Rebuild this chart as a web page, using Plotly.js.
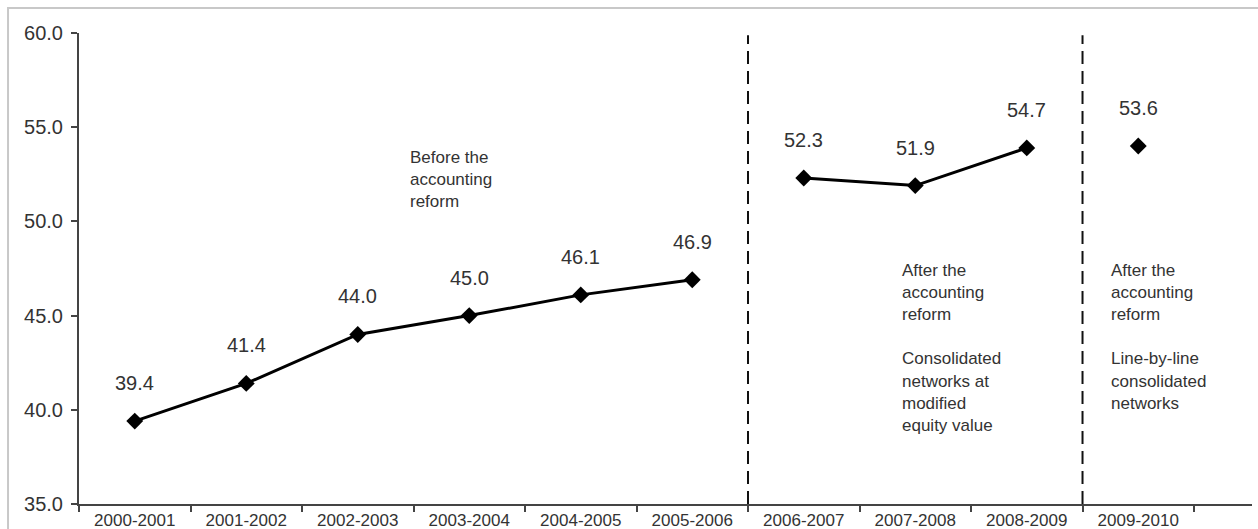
<!DOCTYPE html>
<html>
<head>
<meta charset="utf-8">
<script src="https://cdn.plot.ly/plotly-3.0.1.min.js"></script>
<style>
  html, body { margin: 0; padding: 0; background: #fff; }
  #chart { width: 1258px; height: 529px; }
</style>
</head>
<body>
<div id="chart"></div>
<script>
// ---- data ----
const categories = ["2000-2001", "2001-2002", "2002-2003", "2003-2004", "2004-2005",
                    "2005-2006", "2006-2007", "2007-2008", "2008-2009", "2009-2010"];
// plotted marker positions
const values = [39.4, 41.4, 44.0, 45.0, 46.1, 46.9, 52.3, 51.9, 53.9, 54.0];
// data label texts as printed
const labelTexts = ["39.4", "41.4", "44.0", "45.0", "46.1", "46.9", "52.3", "51.9", "54.7", "53.6"];
// period each year belongs to (lines are only drawn within a period)
const periods = [0, 0, 0, 0, 0, 0, 1, 1, 1, 2];
const periodNotes = [
  "Before the<br>accounting<br>reform",
  "After the<br>accounting<br>reform<br> <br>Consolidated<br>networks at<br>modified<br>equity value",
  "After the<br>accounting<br>reform<br> <br>Line-by-line<br>consolidated<br>networks"
];
const yTickVals = [35, 40, 45, 50, 55, 60];

// ---- build ----
const FONT = "Liberation Sans, Arial, sans-serif";
const TXT = "#333333";
const traces = [];
const nPeriods = Math.max(...periods) + 1;
for (let p = 0; p < nPeriods; p++) {
  const xs = [], ys = [];
  categories.forEach((c, i) => { if (periods[i] === p) { xs.push(c); ys.push(values[i]); } });
  traces.push({
    type: "scatter", mode: "lines+markers", x: xs, y: ys,
    line: { color: "#000000", width: 3 },
    marker: { symbol: "diamond", size: 13, color: "#000000" },
    showlegend: false, hoverinfo: "x+y"
  });
}

const annotations = categories.map((c, i) => ({
  x: c, y: values[i], xref: "x", yref: "y", text: labelTexts[i],
  showarrow: false, yshift: 38, font: { family: FONT, size: 20, color: TXT }
}));

// notes for each period
const notePos = [
  { x: 2.45, y: 54.0 },
  { x: 6.86, y: 48.0 },
  { x: 8.74, y: 48.0 }
];
periodNotes.forEach((t, k) => {
  annotations.push({
    x: notePos[k].x, y: notePos[k].y, xref: "x", yref: "y", text: t,
    showarrow: false, xanchor: "left", yanchor: "top", align: "left",
    font: { family: FONT, size: 17, color: TXT }
  });
});

// dashed separators between periods
const shapes = [];
for (let i = 1; i < periods.length; i++) {
  if (periods[i] !== periods[i - 1]) {
    shapes.push({
      type: "line", xref: "x", yref: "paper", x0: i - 0.5, x1: i - 0.5, y0: 0, y1: 0.995,
      line: { color: "#111111", width: 2, dash: "13px,7px" }
    });
  }
}
// light outer frame
shapes.push({
  type: "rect", xref: "paper", yref: "paper", x0: -0.0605, x1: 1.2, y0: -0.3, y1: 1.053,
  line: { color: "#c8c8c8", width: 2 }, fillcolor: "rgba(0,0,0,0)", layer: "below"
});

const layout = {
  width: 1258, height: 529,
  margin: { l: 79, r: 6, t: 33, b: 25 },
  paper_bgcolor: "#ffffff", plot_bgcolor: "#ffffff",
  showlegend: false,
  xaxis: {
    type: "category", categoryorder: "array", categoryarray: categories,
    range: [-0.5, 10.02], tickson: "boundaries",
    ticks: "outside", ticklen: 6, tickwidth: 2, tickcolor: "#444",
    showline: true, linecolor: "#444", linewidth: 2,
    showgrid: false, zeroline: false, fixedrange: true,
    tickfont: { family: FONT, size: 17, color: TXT }
  },
  yaxis: {
    range: [35, 60], tickvals: yTickVals, tickformat: ".1f",
    ticks: "outside", ticklen: 6, tickwidth: 2, tickcolor: "#444",
    showline: true, linecolor: "#444", linewidth: 2,
    showgrid: false, zeroline: false, fixedrange: true,
    ticklabelstandoff: 4,
    tickfont: { family: FONT, size: 20, color: TXT }
  },
  annotations: annotations,
  shapes: shapes
};

Plotly.newPlot("chart", traces, layout, { displayModeBar: false, staticPlot: true });
</script>
</body>
</html>
